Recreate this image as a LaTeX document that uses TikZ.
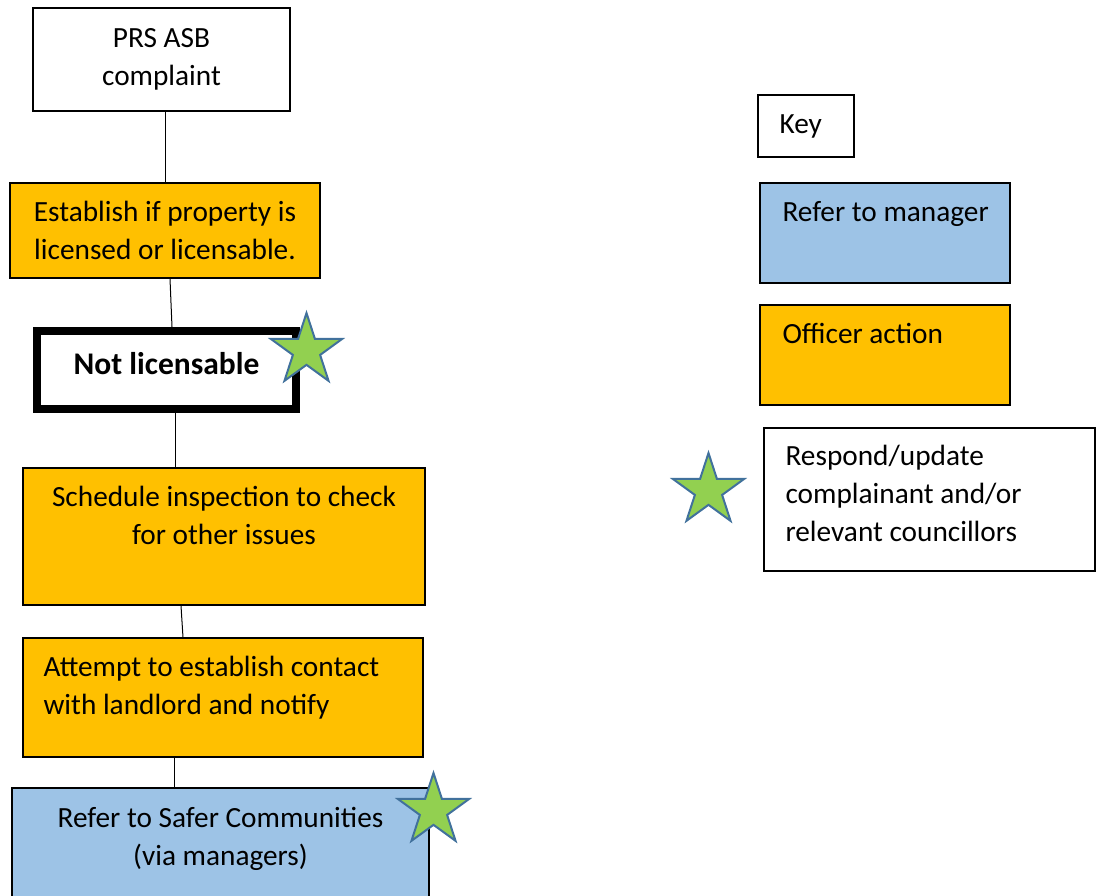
\documentclass[tikz,border=0pt]{standalone}
\usepackage{fontspec}
\setmainfont{Carlito}
\usetikzlibrary{shapes,positioning}

\definecolor{officer}{HTML}{FFC000}
\definecolor{manager}{HTML}{9DC3E6}
\definecolor{stargreen}{HTML}{92D050}
\definecolor{staredge}{HTML}{41719C}

\begin{document}
\begin{tikzpicture}[
    x=1pt, y=-1pt,
    box_node/.style={rectangle, draw=black, line width=1.3pt, inner sep=0pt, font=\fontsize{29.3}{38}\selectfont, align=center},
    white_node/.style={box_node, fill=white},
    officer_node/.style={box_node, fill=officer},
    manager_node/.style={box_node, fill=manager},
    text_node/.style={inner sep=0pt, font=\fontsize{29.3}{38}\selectfont, align=left},
    star_node/.style={star, star points=5, star point ratio=2.618, minimum size=75pt, inner sep=0pt, draw=staredge, line width=2pt, fill=stargreen},
    link/.style={line width=1pt}
]
\useasboundingbox (0,0) rectangle (1104,895);
\clip (0,0) rectangle (1104,895);

% Flow boxes
\node[white_node, minimum width=257pt, minimum height=103pt] (complaint) at (161.5,59.5) {PRS ASB\\complaint};
\node[officer_node, minimum width=310pt, minimum height=95pt] (establish) at (165,230.5) {Establish if property is\\licensed or licensable.};
\node[white_node, line width=8pt, minimum width=259pt, minimum height=78pt] (notlic) at (166.5,370) {};
\node[text_node, font=\fontsize{31.5}{38}\selectfont\bfseries, yshift=6pt] (notlic_text) at (notlic) {Not licensable};

\node[officer_node, minimum width=402pt, minimum height=137pt] (inspect) at (224,536.5) {};
\node[text_node, align=center, below=19pt of inspect.north] (inspect_text) {Schedule inspection to check\\for other issues};

\node[officer_node, minimum width=400pt, minimum height=119pt] (attempt) at (223,697.5) {};
\node[text_node, below right=19pt and 21pt of attempt.north west] (attempt_text) {Attempt to establish contact\\with landlord and notify};

\node[manager_node, minimum width=417pt, minimum height=142pt] (safer) at (220.5,859) {};
\node[text_node, align=center, below=20pt of safer.north] (safer_text) {Refer to Safer Communities\\(via managers)};

% Links
\draw[link] (complaint.south -| establish.north) -- (establish.north);
\draw[link] ([xshift=5pt]establish.south) -- ([xshift=5.5pt]notlic.north);
\draw[link] ([xshift=8.5pt]notlic.south) -- ([xshift=-49pt]inspect.north);
\draw[link] ([xshift=-43pt]inspect.south) -- ([xshift=-40pt]attempt.north);
\draw[link] ([xshift=-49pt]attempt.south) -- ([xshift=-46.5pt]safer.north);

% Key
\node[white_node, minimum width=96pt, minimum height=62pt] (key) at (806,126) {};
\node[text_node, right=22pt of key.west] (key_text) {Key};

\node[manager_node, minimum width=250pt, minimum height=100pt] (key_manager) at (885,233) {};
\node[text_node, below right=19pt and 23pt of key_manager.north west] (key_manager_text) {Refer to manager};

\node[officer_node, minimum width=250pt, minimum height=100pt] (key_officer) at (885,355) {};
\node[text_node, below right=19pt and 23pt of key_officer.north west] (key_officer_text) {Officer action};

\node[white_node, minimum width=331pt, minimum height=143pt] (key_respond) at (929.5,499.5) {};
\node[text_node, below right=18pt and 22pt of key_respond.north west] (key_respond_text) {Respond/update\\complainant and/or\\relevant councillors};

% Stars
\node[star_node] (star_notlic) at (306.5,350.5) {};
\node[star_node] (star_safer) at (433.5,810.5) {};
\node[star_node] (star_key) at (708.5,490.5) {};

\end{tikzpicture}
\end{document}
